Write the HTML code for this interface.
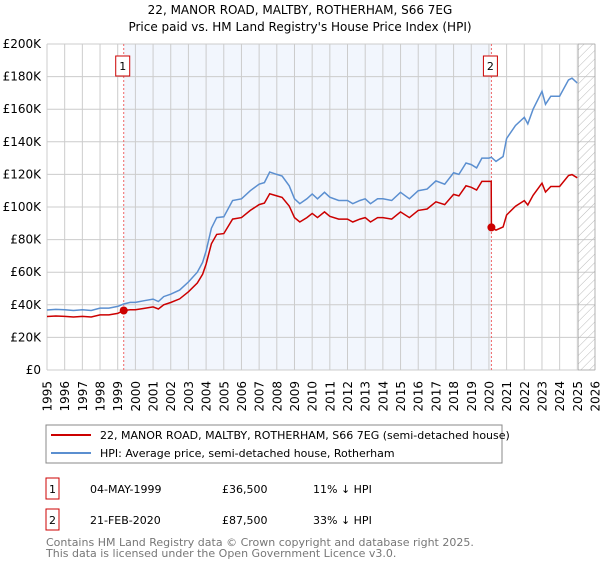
<!DOCTYPE html>
<html><head><meta charset="utf-8"><style>
body{margin:0;background:#fff;font-family:"Liberation Sans","DejaVu Sans",sans-serif;}
svg text{font-family:"DejaVu Sans","Liberation Sans",sans-serif;}
</style></head><body>
<svg id="c" width="600" height="560" xmlns="http://www.w3.org/2000/svg">
<defs><pattern id="hatch" width="6" height="6" patternUnits="userSpaceOnUse" patternTransform="rotate(45)"><line x1="0" y1="0" x2="0" y2="6" stroke="#bbb" stroke-width="1"/></pattern></defs>
<text x="300" y="14" text-anchor="middle" font-size="12">22, MANOR ROAD, MALTBY, ROTHERHAM, S66 7EG</text>
<text x="300" y="31" text-anchor="middle" font-size="12">Price paid vs. HM Land Registry's House Price Index (HPI)</text>
<g id="plot"></g>
<rect x="46" y="425" width="456" height="38" fill="#fff" stroke="#888"/>
<line x1="51" y1="435" x2="91" y2="435" stroke="#cc0000" stroke-width="2"/>
<text x="100" y="439" font-size="11">22, MANOR ROAD, MALTBY, ROTHERHAM, S66 7EG (semi-detached house)</text>
<line x1="51" y1="453" x2="91" y2="453" stroke="#5b8fd0" stroke-width="2"/>
<text x="100" y="457" font-size="11">HPI: Average price, semi-detached house, Rotherham</text>
<rect x="46" y="478" width="13" height="21" fill="#fff" stroke="#cc0000"/>
<text x="52.5" y="493" font-size="11" text-anchor="middle">1</text>
<text x="90" y="493" font-size="11">04-MAY-1999</text>
<text x="222" y="493" font-size="11">£36,500</text>
<text x="313" y="493" font-size="11">11% ↓ HPI</text>
<rect x="46" y="509" width="13" height="21" fill="#fff" stroke="#cc0000"/>
<text x="52.5" y="524" font-size="11" text-anchor="middle">2</text>
<text x="90" y="524" font-size="11">21-FEB-2020</text>
<text x="222" y="524" font-size="11">£87,500</text>
<text x="313" y="524" font-size="11">33% ↓ HPI</text>
<text x="46" y="546" font-size="11" fill="#777">Contains HM Land Registry data © Crown copyright and database right 2025.</text>
<text x="46" y="557" font-size="11" fill="#777">This data is licensed under the Open Government Licence v3.0.</text>
</svg>
<script>
const yTicks=[0,20,40,60,80,100,120,140,160,180,200];
const yTickLabels=["£0","£20K","£40K","£60K","£80K","£100K","£120K","£140K","£160K","£180K","£200K"];
const xTicks=[1995,1996,1997,1998,1999,2000,2001,2002,2003,2004,2005,2006,2007,2008,2009,2010,2011,2012,2013,2014,2015,2016,2017,2018,2019,2020,2021,2022,2023,2024,2025,2026];
const hpiYears=[1995,1995.5,1996,1996.5,1997,1997.5,1998,1998.5,1999,1999.34,1999.7,2000,2000.5,2001,2001.3,2001.6,2002,2002.5,2003,2003.5,2003.8,2004,2004.3,2004.6,2005,2005.5,2006,2006.5,2007,2007.3,2007.6,2008,2008.3,2008.7,2009,2009.3,2009.7,2010,2010.3,2010.7,2011,2011.5,2012,2012.3,2012.7,2013,2013.3,2013.7,2014,2014.5,2015,2015.5,2016,2016.5,2017,2017.5,2018,2018.3,2018.7,2019,2019.3,2019.6,2020,2020.14,2020.4,2020.8,2021,2021.5,2022,2022.2,2022.5,2023,2023.2,2023.5,2024,2024.5,2024.7,2025];
const hpiValues=[36.8,37.2,37,36.5,37,36.5,38,38,39,40.5,41.5,41.5,42.5,43.5,42,45,46.5,49,54,60,66,73,87,93.5,94,104,105,110,114,115,121.5,120,119,113,105,102,105,108,105,109,106,104,104,102,104,105,102,105,105,104,109,105,110,111,116,114,121,120,127,126,124,130,130,130.5,128,131,142,150,155,151,160,171,163,168,168,178,179,176];
const propYears=[1995,1995.5,1996,1996.5,1997,1997.5,1998,1998.5,1999,1999.34,1999.7,2000,2000.5,2001,2001.3,2001.6,2002,2002.5,2003,2003.5,2003.8,2004,2004.3,2004.6,2005,2005.5,2006,2006.5,2007,2007.3,2007.6,2008,2008.3,2008.7,2009,2009.3,2009.7,2010,2010.3,2010.7,2011,2011.5,2012,2012.3,2012.7,2013,2013.3,2013.7,2014,2014.5,2015,2015.5,2016,2016.5,2017,2017.5,2018,2018.3,2018.7,2019,2019.3,2019.6,2020,2020.13,2020.14,2020.4,2020.8,2021,2021.5,2022,2022.2,2022.5,2023,2023.2,2023.5,2024,2024.5,2024.7,2025];
const propValues=[32.8,33.1,32.9,32.5,32.9,32.5,33.8,33.8,34.7,36.5,37,37,37.8,38.7,37.4,40,41.4,43.6,48,53.4,58.7,65,77.4,83.2,83.7,92.6,93.5,97.9,101.5,102.4,108.1,106.8,105.9,100.6,93.5,90.8,93.5,96.1,93.5,97,94.3,92.6,92.6,90.8,92.6,93.5,90.8,93.5,93.5,92.6,97,93.5,97.9,98.8,103.2,101.5,107.7,106.8,113,112.1,110.4,115.7,115.7,115.7,87.5,85.8,87.8,95.1,100.5,103.9,101.2,107.2,114.6,109.2,112.6,112.6,119.3,119.9,117.9];
const saleYears=[1999.34,2020.14];
const saleValues=[36.5,87.5];
const saleLabels=["1","2"];

const NS="http://www.w3.org/2000/svg";
const X0=47,X1=595,Y0=370,Y1=44,xmin=1995,xmax=2026,ymax=200;
function xs(v){return X0+(v-xmin)/(xmax-xmin)*(X1-X0);}
function ys(v){return Y0-v/ymax*(Y0-Y1);}
const g=document.getElementById('plot');
function mk(t,a){const e=document.createElementNS(NS,t);for(const k in a)e.setAttribute(k,a[k]);g.appendChild(e);return e;}
let e;
e=mk('rect',{x:xs(saleYears[0]),y:Y1,width:xs(saleYears[1])-xs(saleYears[0]),height:Y0-Y1,fill:'#eef3fc',opacity:0.75});


yTicks.forEach((t,i)=>{
 e=mk('line',{x1:X0,x2:X1,y1:ys(t),y2:ys(t),stroke:'#ccc','stroke-width':1});
 
 
 e=mk('text',{x:X0-6,y:ys(t)+4,'text-anchor':'end','font-size':12});
 e.textContent=yTickLabels[i];
 
 
});
xTicks.forEach(t=>{
 e=mk('line',{x1:xs(t),x2:xs(t),y1:Y1,y2:Y0,stroke:'#ccc','stroke-width':1});
 
 
 const lx=xs(t)+4.5,ly=Y0+11;
 e=mk('text',{x:lx,y:ly,'text-anchor':'end','font-size':12,transform:'rotate(-90 '+lx+' '+ly+')'});
 e.textContent=String(t);
 
 
});
e=mk('rect',{x:xs(2025.05),y:Y1,width:X1-xs(2025.05),height:Y0-Y1,fill:'url(#hatch)',stroke:'#999','stroke-width':0.5});


saleYears.forEach((s,i)=>{
 e=mk('line',{x1:xs(s),x2:xs(s),y1:Y1,y2:Y0,stroke:'#e66','stroke-width':1,'stroke-dasharray':'2,2'});
 
 
 e=mk('rect',{x:xs(s)-8,y:56,width:14,height:20,fill:'#fff',stroke:'#cc0000'});
 
 
 e=mk('text',{x:xs(s)-1,y:70,'text-anchor':'middle','font-size':11});
 e.textContent=saleLabels[i];
 
 
});
function path(xv,yv){return xv.map((x,i)=>(i?'L':'M')+xs(x).toFixed(1)+','+ys(yv[i]).toFixed(1)).join(' ');}
e=mk('path',{d:path(hpiYears,hpiValues),fill:'none',stroke:'#5b8fd0','stroke-width':1.5});


e=mk('path',{d:path(propYears,propValues),fill:'none',stroke:'#cc0000','stroke-width':1.5});


saleYears.forEach((s,i)=>{
 e=mk('circle',{cx:xs(s),cy:ys(saleValues[i]),r:4,fill:'#cc0000'});
 
 
});
</script>
</body></html>
